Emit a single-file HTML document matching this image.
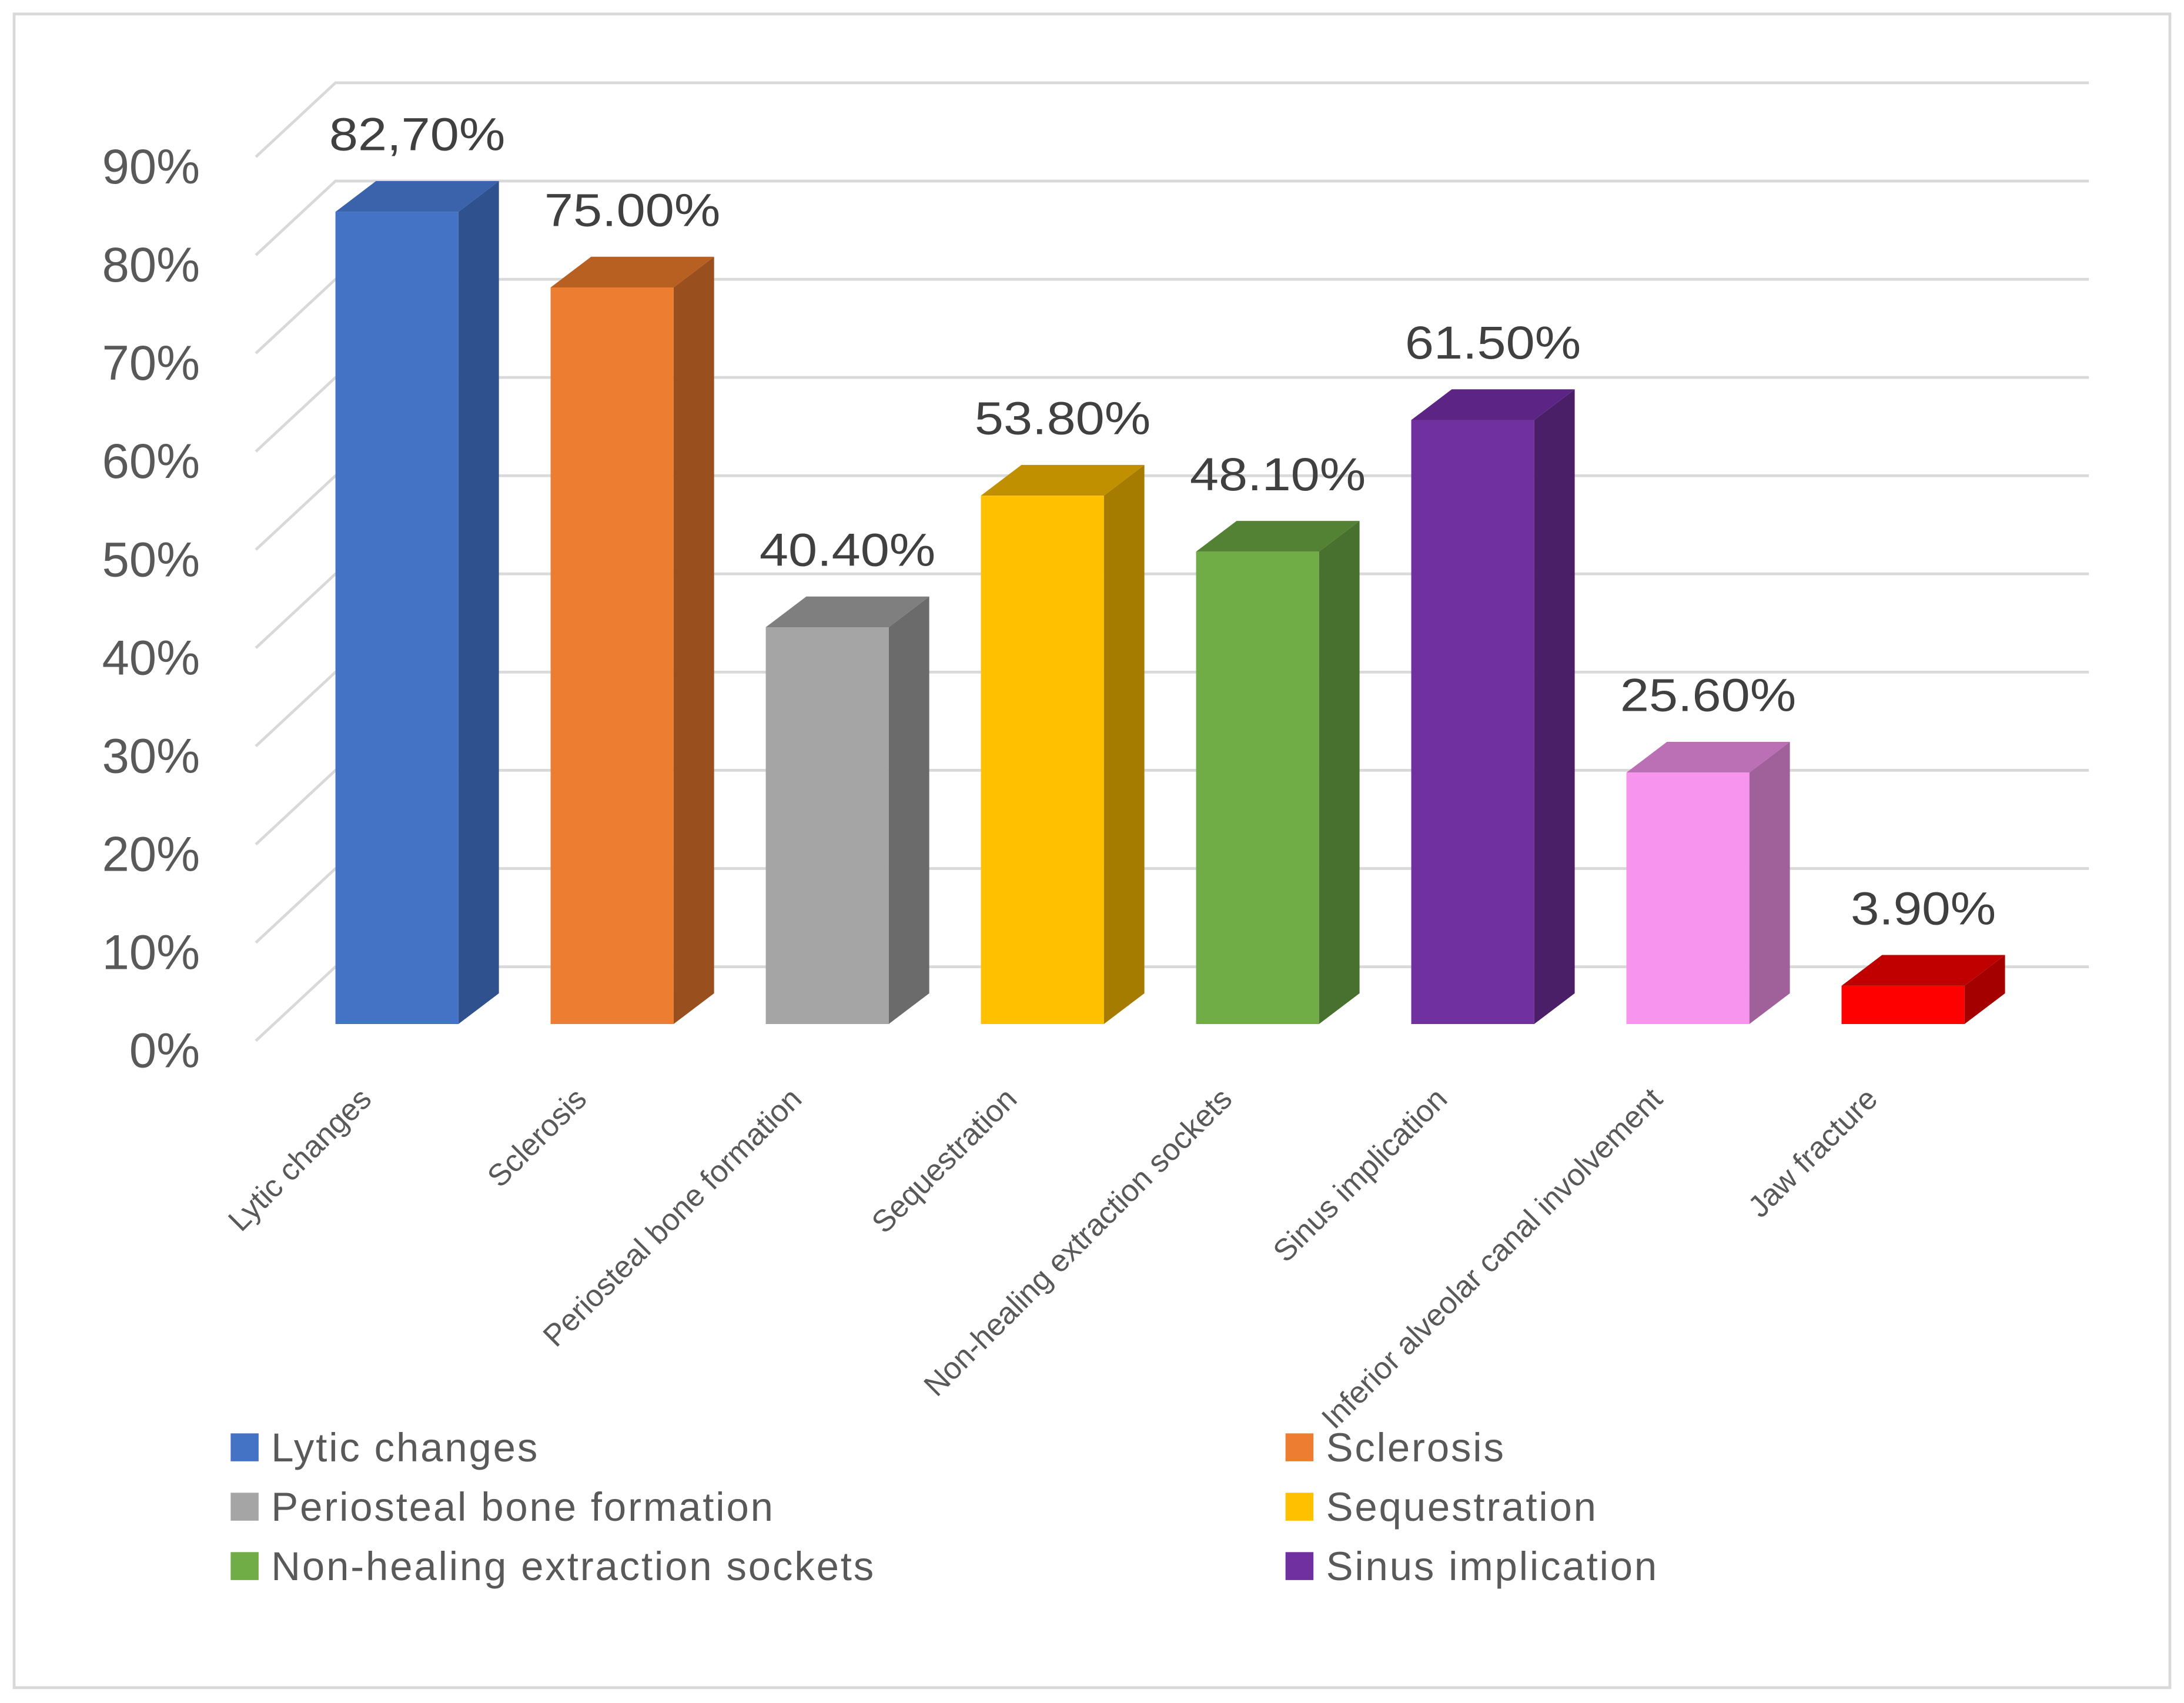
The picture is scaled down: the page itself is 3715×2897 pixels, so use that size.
<!DOCTYPE html>
<html><head><meta charset="utf-8"><style>
html,body{margin:0;padding:0;background:#fff}
svg{display:block}
text{font-family:"Liberation Sans",sans-serif}
</style></head><body>
<svg id="chart" width="3715" height="2897" viewBox="0 0 1563 1219" xmlns="http://www.w3.org/2000/svg">
<rect x="10" y="10" width="1543" height="1198" fill="#fff" stroke="#d9d9d9" stroke-width="2"/>
<g id="grid"></g><g id="bars"></g><g id="labels"></g><g id="legend"></g>
</svg>
<script>
const categories=["Lytic changes","Sclerosis","Periosteal bone formation","Sequestration","Non-healing extraction sockets","Sinus implication","Inferior alveolar canal involvement","Jaw fracture"];
const values=[82.7,75.0,40.4,53.8,48.1,61.5,25.6,3.9];
const valueLabels=["82,70%","75.00%","40.40%","53.80%","48.10%","61.50%","25.60%","3.90%"];
const yTicks=[0,10,20,30,40,50,60,70,80,90];
const legendItems=["Lytic changes","Sclerosis","Periosteal bone formation","Sequestration","Non-healing extraction sockets","Sinus implication"];
const front=["#4472c4","#ed7d31","#a5a5a5","#ffc000","#70ad47","#7030a0","#f794ee","#ff0000"];
const side=["#2f528f","#9a4f1e","#6b6b6b","#a67c00","#48702e","#4a1f68","#a0609a","#a50000"];
const top_=["#3a63ab","#b85f22","#7f7f7f","#c09000","#548235","#5c2585","#bb70b5","#c00000"];
const NS="http://www.w3.org/2000/svg";
const PX=7.03;
const yFront=v=>745-v*PX, yBack=v=>692-v*PX, yBar=v=>733-v*PX;
const xBar=i=>240+i*154;
function mk(t,a,p){const e=document.createElementNS(NS,t);for(const k in a)e.setAttribute(k,a[k]);p.appendChild(e);return e;}
const grid=document.getElementById('grid'),bars=document.getElementById('bars'),labels=document.getElementById('labels'),legend=document.getElementById('legend');
yTicks.forEach(t=>{
  const g=mk('polyline',{points:`183,${yFront(t)} 240,${yBack(t)} 1495,${yBack(t)}`,fill:'none',stroke:'#d9d9d9','stroke-width':2},grid);
  
  
  const tx=mk('text',{x:143,y:yFront(t)+19,'text-anchor':'end','font-size':35,fill:'#595959'},labels);
  tx.textContent=t+'%';
  
  
});
const W=88,DX=29,DY=22;
values.forEach((v,i)=>{
  const x=xBar(i),b=733,t=yBar(v);
  const g=mk('g',{},bars);
  
  
  mk('polygon',{points:`${x+W},${b} ${x+W+DX},${b-DY} ${x+W+DX},${t-DY} ${x+W},${t}`,fill:side[i]},g);
  mk('polygon',{points:`${x},${t} ${x+DX},${t-DY} ${x+W+DX},${t-DY} ${x+W},${t}`,fill:top_[i]},g);
  mk('rect',{x:x,y:t,width:W,height:b-t,fill:front[i]},g);
  const vl=mk('text',{x:x+W/2+DX/2,y:t-DY-22,'text-anchor':'middle','font-size':33,fill:'#404040',textLength:126,lengthAdjust:'spacingAndGlyphs'},labels);
  vl.textContent=valueLabels[i];
  if(valueLabels[i].length<6) vl.setAttribute('textLength',104);
  
  
  const ex=x+27,ey=788;
  const cl=mk('text',{x:ex,y:ey,'text-anchor':'end','font-size':22,fill:'#595959',transform:`rotate(-45 ${ex} ${ey})`},labels);
  cl.textContent=categories[i];
  
  
});
legendItems.forEach((n,i)=>{
  const col=i%2,row=Math.floor(i/2);
  const lx=col?920:165,ly=1036+row*42.5;
  const g=mk('g',{},legend);
  
  
  mk('rect',{x:lx,y:ly-10,width:20,height:20,fill:front[i]},g);
  const t=mk('text',{x:lx+29,y:ly+10,'font-size':29,'letter-spacing':1.2,fill:'#595959'},g);
  t.textContent=n;
});
</script>
</body></html>
